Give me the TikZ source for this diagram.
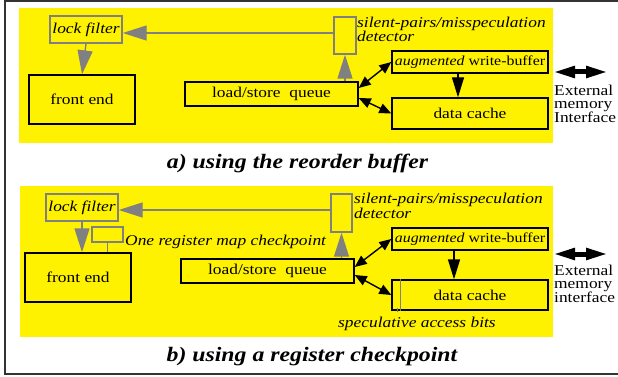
\documentclass[tikz,border=0pt]{standalone}
\usepackage{fontspec}
\setmainfont[FakeStretch=1.16]{Liberation Serif}
\usetikzlibrary{arrows.meta}

\begin{document}
\begin{tikzpicture}[x=1pt,y=-1pt,
    panel/.style={fill=yellow,draw=none},
    box/.style={draw=black,line width=1.4pt,inner sep=0pt,font=\fontsize{15}{15}\selectfont},
    wbox/.style={box,font=\fontsize{13.7}{15}\selectfont},
    gbox/.style={draw=gray,line width=1.4pt,inner sep=0pt,font=\fontsize{15}{15}\selectfont\itshape},
    lbl/.style={inner sep=0pt,font=\fontsize{15}{14.5}\selectfont\itshape,align=left},
    extlbl/.style={inner sep=0pt,font=\fontsize{15}{12.5}\selectfont,align=left},
    caption/.style={inner sep=0pt,font=\fontsize{20.5}{20.5}\selectfont\bfseries\itshape},
    gline/.style={draw=gray,line width=1.4pt},
    grayarr/.style={draw=gray,line width=1.4pt,-{Triangle[length=24pt,width=15pt]}},
    blkarr/.style={line width=1.4pt,-{Triangle[length=20pt,width=12pt]}},
    dblarr/.style={line width=1.4pt,{Triangle[length=12pt,width=10pt]}-{Triangle[length=12pt,width=10pt]}},
    extarr/.style={line width=5pt,{Triangle[length=22pt,width=11pt]}-{Triangle[length=22pt,width=11pt]}}]
    \useasboundingbox (0,0) rectangle (618,377);
    \draw[line width=1.2pt,black!80] (618,1) -- (5,1) -- (5,374) -- (618,374);

    % a) reorder buffer
    \fill[panel] (19,8) rectangle (553,143);
    \node[gbox,minimum width=72pt,minimum height=27pt] (lockA) at (86,29.5) {lock filter};
    \node[box,minimum width=106pt,minimum height=49pt] (frontA) at (82,99.5) {front end};
    \node[box,minimum width=173pt,minimum height=24pt] (lsqA) at (271.5,94) {load/store~~queue};
    \node[gbox,minimum width=22pt,minimum height=37pt] (detA) at (345,35.5) {};
    \node[lbl,anchor=north west] (silA) at (357,16.5) {silent-pairs/misspeculation\\detector};
    \node[wbox,minimum width=156pt,minimum height=22pt] (wbA) at (470,62) {\textit{augmented} write-buffer};
    \node[box,minimum width=156pt,minimum height=31pt] (dcA) at (470,113.5) {data cache};
    \node[extlbl,anchor=north west] (extA) at (554,85) {External\\memory\\Interface};
    \coordinate (extAl) at (553,72);
    \coordinate (extAr) at (608,72);
    \draw[grayarr] (lockA.south) -- (frontA.north);
    \draw[grayarr] ([yshift=2.5pt]detA.west) -- ([yshift=2.5pt]detA.west -| lockA.east);
    \draw[grayarr] (lsqA.north -| detA.south) -- (detA.south);
    \draw[dblarr] ([yshift=6pt]lsqA.east) -- (wbA.west);
    \draw[dblarr] ([yshift=-4pt]lsqA.east) -- (dcA.west);
    \draw[blkarr] ([xshift=-12pt]wbA.south) -- ([xshift=-12pt]wbA.south |- dcA.north);
    \draw[extarr] (extAl) -- (extAr);
    \node[caption,anchor=base] (capA) at (297.5,168) {a) using the reorder buffer};

    % b) register checkpoint
    \fill[panel] (20,186) rectangle (553,337);
    \node[gbox,minimum width=72pt,minimum height=27pt] (lockB) at (82,207.5) {lock filter};
    \node[box,minimum width=106pt,minimum height=49pt] (frontB) at (78,277.5) {front end};
    \node[gbox,minimum width=31pt,minimum height=15pt] (ckptB) at (107.5,234.5) {};
    \node[lbl,anchor=base west] (ckptlbl) at (125,245) {One register map checkpoint};
    \node[box,minimum width=173pt,minimum height=24pt] (lsqB) at (267.5,271) {load/store~~queue};
    \node[gbox,minimum width=21pt,minimum height=38pt] (detB) at (341.5,213) {};
    \node[lbl,anchor=north west] (silB) at (354,193) {silent-pairs/misspeculation\\detector};
    \node[wbox,minimum width=156pt,minimum height=22pt] (wbB) at (470,239) {\textit{augmented} write-buffer};
    \node[box,minimum width=156pt,minimum height=30pt] (dcB) at (470,295) {data cache};
    \node[lbl,anchor=base west] (bitsB) at (338,327) {speculative access bits};
    \coordinate (bitsBt) at (397,312);
    \node[extlbl,anchor=north west] (extB) at (554,265) {External\\memory\\interface};
    \coordinate (extBl) at (553,254);
    \coordinate (extBr) at (608,254);
    \draw[grayarr] (lockB.south) -- (frontB.north -| lockB.south);
    \draw[gline] (ckptB.south) -- (ckptB.south |- frontB.north);
    \draw[grayarr] ([yshift=3pt]detB.west) -- ([yshift=3pt]detB.west -| lockB.east);
    \draw[grayarr] (lsqB.north -| detB.south) -- (detB.south);
    \draw[dblarr] ([yshift=4pt]lsqB.east) -- (wbB.west);
    \draw[dblarr] ([yshift=-4pt]lsqB.east) -- (dcB.west);
    \draw[blkarr] ([xshift=-16pt]wbB.south) -- ([xshift=-16pt]wbB.south |- dcB.north);
    \draw[gline,line width=1pt] ([xshift=9pt]dcB.north west) -- ([xshift=9pt]dcB.south west);
    \draw[gline,line width=1pt] (bitsBt |- dcB.south) ++(0,-3) -- (bitsBt);
    \draw[extarr] (extBl) -- (extBr);
    \node[caption,anchor=base] (capB) at (312,361) {b) using a register checkpoint};
\end{tikzpicture}
\end{document}
